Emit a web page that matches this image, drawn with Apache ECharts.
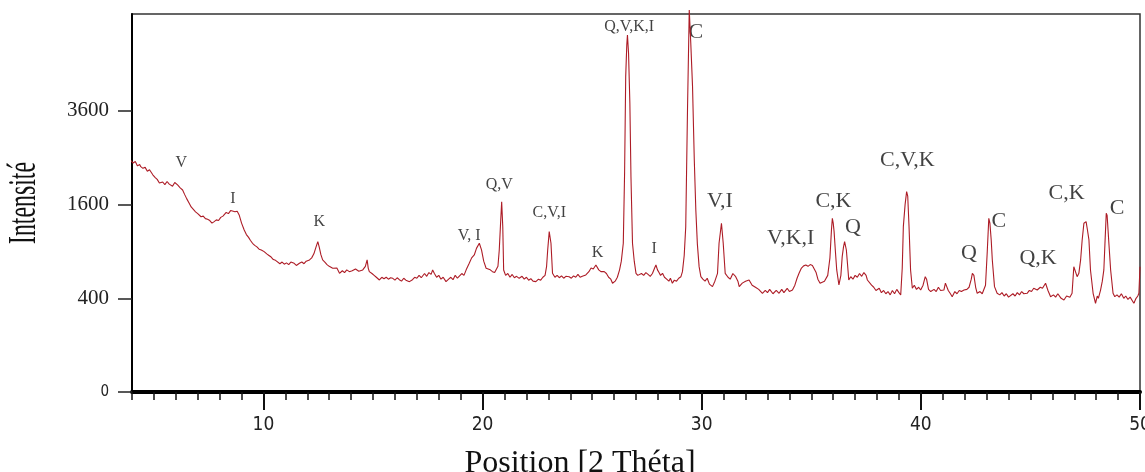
<!DOCTYPE html>
<html><head><meta charset="utf-8">
<script src="https://cdn.jsdelivr.net/npm/echarts@6/dist/echarts.min.js"></script>
<style>html,body{margin:0;padding:0;background:#fff}#c{width:1145px;height:472px}</style>
</head><body><div id="c"></div>
<script>
// 2θ positions (degrees) and measured intensities (counts)
const twoTheta = [
3.95,4.05,4.15,4.25,4.35,4.40,4.50,4.60,4.70,4.80,4.86,4.95,5.05,5.15,5.25,5.32,5.40,5.50,5.60,5.70,5.77,5.85,5.95,6.08,6.20,6.31,6.40,6.50,6.61,6.70,6.80,6.90,7.00,7.07,7.15,7.25,7.35,7.45,7.55,7.65,7.75,7.85,7.95,8.05,8.15,8.21,8.30,8.40,8.50,8.59,8.70,8.80,8.89,9.00,9.12,9.22,9.32,9.40,9.50,9.60,9.70,9.80,9.90,10.03,10.15,10.25,10.35,10.45,10.55,10.64,10.75,10.85,10.95,11.05,11.15,11.25,11.40,11.50,11.64,11.75,11.85,11.95,12.10,12.20,12.30,12.40,12.48,12.55,12.62,12.70,12.80,12.90,13.00,13.16,13.25,13.35,13.47,13.60,13.70,13.80,13.92,14.05,14.20,14.35,14.53,14.65,14.73,14.78,14.83,14.95,15.05,15.15,15.29,15.40,15.50,15.60,15.70,15.80,15.90,16.00,16.10,16.20,16.30,16.40,16.50,16.66,16.80,16.90,17.00,17.10,17.20,17.26,17.35,17.45,17.55,17.65,17.72,17.80,17.90,18.00,18.10,18.20,18.33,18.45,18.55,18.65,18.75,18.85,18.94,19.05,19.15,19.25,19.39,19.50,19.62,19.72,19.85,19.95,20.05,20.16,20.25,20.35,20.45,20.55,20.61,20.70,20.76,20.82,20.87,20.92,20.96,21.05,21.15,21.25,21.35,21.45,21.55,21.67,21.80,21.90,22.00,22.10,22.20,22.30,22.43,22.55,22.65,22.75,22.85,22.92,22.97,23.04,23.12,23.19,23.30,23.40,23.50,23.60,23.70,23.80,23.95,24.05,24.15,24.25,24.35,24.45,24.55,24.71,24.85,24.95,25.05,25.17,25.30,25.40,25.47,25.55,25.65,25.75,25.85,25.93,26.05,26.15,26.25,26.33,26.42,26.48,26.53,26.58,26.61,26.66,26.72,26.77,26.84,26.92,27.00,27.08,27.15,27.25,27.35,27.45,27.55,27.65,27.75,27.85,27.91,27.98,28.05,28.12,28.21,28.30,28.40,28.50,28.57,28.66,28.75,28.85,28.95,29.05,29.12,29.20,29.27,29.35,29.43,29.50,29.58,29.66,29.73,29.80,29.88,29.96,30.05,30.15,30.25,30.35,30.49,30.60,30.72,30.79,30.90,30.98,31.07,31.20,31.30,31.42,31.55,31.65,31.71,31.85,32.00,32.16,32.30,32.45,32.60,32.77,32.90,33.00,33.10,33.25,33.40,33.53,33.65,33.75,33.90,34.00,34.14,34.25,34.35,34.44,34.55,34.65,34.75,34.85,34.95,35.05,35.13,35.22,35.30,35.40,35.48,35.60,35.75,35.85,35.92,35.96,36.00,36.04,36.10,36.16,36.26,36.35,36.41,36.47,36.52,36.60,36.66,36.71,36.80,36.90,37.00,37.10,37.20,37.30,37.40,37.50,37.56,37.65,37.75,37.85,37.95,38.01,38.10,38.20,38.30,38.40,38.50,38.60,38.70,38.80,38.90,39.00,39.08,39.15,39.20,39.28,39.35,39.40,39.46,39.53,39.61,39.70,39.80,39.90,39.99,40.10,40.20,40.26,40.35,40.45,40.52,40.60,40.70,40.80,40.90,41.05,41.12,41.17,41.25,41.35,41.43,41.55,41.65,41.75,41.85,41.97,42.10,42.20,42.30,42.35,42.42,42.50,42.57,42.70,42.80,42.88,42.95,43.03,43.10,43.15,43.21,43.26,43.36,43.48,43.60,43.70,43.80,43.90,44.00,44.09,44.20,44.30,44.40,44.50,44.60,44.70,44.85,44.95,45.05,45.15,45.31,45.45,45.55,45.69,45.80,45.92,46.05,46.15,46.25,46.40,46.53,46.65,46.80,46.90,46.98,47.06,47.13,47.21,47.29,47.36,47.44,47.50,47.54,47.60,47.67,47.74,47.86,47.97,48.05,48.10,48.20,48.28,48.35,48.40,48.46,48.50,48.58,48.66,48.77,48.85,48.95,49.05,49.15,49.26,49.35,49.45,49.55,49.65,49.72,49.82,49.90,49.95,50.00
];
const intensity = [
2440,2390,2420,2330,2360,2315,2280,2300,2220,2250,2213,2150,2100,2060,1990,1986,2010,1960,2020,1970,1986,1930,2000,1954,1900,1860,1780,1700,1624,1560,1520,1480,1450,1429,1400,1410,1370,1360,1340,1300,1323,1350,1340,1390,1410,1429,1470,1450,1500,1510,1480,1490,1429,1300,1197,1130,1090,1050,1008,980,960,930,920,898,870,850,830,800,790,774,750,770,745,760,740,770,755,730,755,770,750,780,795,820,870,960,1030,950,860,795,770,740,720,698,680,700,642,670,650,680,660,670,690,665,679,720,795,700,660,640,620,600,572,600,585,600,580,595,589,570,595,575,560,590,570,555,575,600,590,620,595,606,640,610,650,630,679,640,600,620,580,600,555,580,600,575,620,590,606,640,620,680,755,820,856,940,1008,920,780,698,720,680,660,650,642,720,919,1300,1651,1246,679,620,640,600,630,595,610,589,610,580,600,570,585,560,555,580,570,600,620,720,919,1172,1008,642,600,620,595,615,590,610,606,590,615,600,630,600,610,624,660,700,690,735,680,660,642,660,640,600,580,539,560,600,680,780,1008,2200,4533,5500,5811,5230,3801,2113,1008,780,642,620,606,640,620,650,630,610,640,700,735,680,650,620,642,600,580,560,590,539,570,560,590,606,660,850,1246,3626,6654,5544,4250,2454,1510,1000,716,606,580,560,590,530,506,560,642,1008,1298,1008,642,600,580,640,606,560,506,540,560,572,520,500,480,444,470,450,480,440,470,444,480,450,490,460,474,520,590,642,700,725,735,720,740,730,716,650,580,540,522,560,620,820,1200,1376,1300,1172,900,679,522,620,835,960,1030,919,720,572,606,580,620,600,640,610,650,620,572,560,520,500,470,459,490,450,470,440,460,430,470,440,480,450,429,700,1246,1600,1829,1750,1246,679,490,520,480,500,474,520,606,580,480,460,444,480,460,500,470,474,540,522,470,440,414,460,440,470,460,474,480,500,580,642,620,500,444,460,440,444,520,900,1376,1300,1054,795,506,444,430,450,420,440,410,414,440,420,450,430,460,440,444,470,460,490,474,500,490,539,470,414,430,410,440,400,386,420,410,444,716,700,606,642,795,1050,1298,1323,1323,1200,1054,679,444,359,420,400,474,560,679,1000,1456,1420,1008,679,444,414,430,410,440,400,420,390,410,380,359,400,420,444,716
];
// Phase annotations (C calcite, Q quartz, K kaolinite, V vermiculite, I illite)
const minorLabelText = ['V','I','K','V, I','Q,V','C,V,I','K','Q,V,K,I','I'];
const minorLabelTheta = [6.25,8.60,12.55,19.39,20.76,23.04,25.24,26.69,27.83];
const minorLabelIntensity = [2397,1693,1323,1110,1954,1466,877,6085,941];
const majorLabelText = ['C','V,I','V,K,I','C,K','Q','C,V,K','Q','C','Q,K','C,K','C'];
const majorLabelTheta = [29.73,30.83,34.06,36.01,36.90,39.38,42.19,43.56,45.35,46.65,48.96];
const majorLabelIntensity = [5886,1651,1077,1651,1237,2454,877,1323,815,1800,1539];
// Axis ticks
const xTickLabels = [10,20,30,40,50];
const yTickLabels = [0,400,1600,3600];

const serif = "'Liberation Serif','Times New Roman',serif";
const narrow = "'Liberation Sans Narrow','DejaVu Sans Condensed','Arial Narrow',sans-serif";
const chart = echarts.init(document.getElementById('c'), null, {renderer:'canvas'});
const lineData = twoTheta.map((t,i)=>[t, Math.sqrt(intensity[i])]);
const mk = (txt, th, it) => txt.map((s,i)=>({name:s, value:[th[i], Math.sqrt(it[i])]}));

chart.setOption({
  animation:false,
  backgroundColor:'#fff',
  grid:{left:132, right:5, top:14, bottom:80, show:true, borderColor:'#333', borderWidth:1.5,
        containLabel:false, outerBoundsMode:'none'},
  xAxis:[{
    type:'value', min:4, max:50, interval:1,
    axisLine:{lineStyle:{color:'#000', width:4}},
    axisTick:{length:8, lineStyle:{color:'#111', width:1.5}},
    axisLabel:{customValues:xTickLabels, margin:24, fontFamily:narrow, fontSize:19, color:'#222'},
    splitLine:{show:false},
    name:'Position [2 Théta]', nameLocation:'middle', nameGap:56,
    nameTextStyle:{fontFamily:serif, fontSize:32, color:'#111', padding:[0,112,0,0]}
  },{
    type:'value', min:4, max:50, position:'top', offset:-378,
    axisLine:{show:false},
    axisTick:{inside:true, length:18, customValues:xTickLabels, lineStyle:{color:'#111', width:2}},
    axisLabel:{show:false}, splitLine:{show:false}
  }],
  yAxis:{
    type:'value', min:0, max:80.7,
    axisLine:{show:true, lineStyle:{color:'#000', width:2}},
    axisTick:{show:true, length:14, customValues:yTickLabels.map(Math.sqrt), lineStyle:{color:'#222', width:1.5}},
    axisLabel:{customValues:yTickLabels.map(Math.sqrt), margin:23,
      formatter:v=>{const n=Math.round(v*v); return n===0?'{z|0}':'{n|'+n+'}';},
      rich:{z:{fontFamily:narrow, fontSize:15, color:'#222'},
            n:{fontFamily:serif, fontSize:21, color:'#222'}}},
    splitLine:{show:false}
  },
  graphic:[{type:'text', x:25, y:203, rotation:Math.PI/2, scaleX:0.61,
    style:{text:'Intensité', fontFamily:serif, fontSize:39, fill:'#111', align:'center', verticalAlign:'middle'}}],
  series:[
    {type:'line', data:lineData, showSymbol:false, clip:false, silent:true,
     lineStyle:{color:'#ad1c26', width:1.1}},
    {type:'scatter', data:mk(minorLabelText,minorLabelTheta,minorLabelIntensity), symbolSize:0, silent:true,
     label:{show:true, position:'inside', formatter:p=>p.name, fontFamily:serif, fontSize:16, color:'#111'}},
    {type:'scatter', data:mk(majorLabelText,majorLabelTheta,majorLabelIntensity), symbolSize:0, silent:true,
     label:{show:true, position:'inside', formatter:p=>p.name, fontFamily:serif, fontSize:22, color:'#111'}}
  ]
});
</script></body></html>
